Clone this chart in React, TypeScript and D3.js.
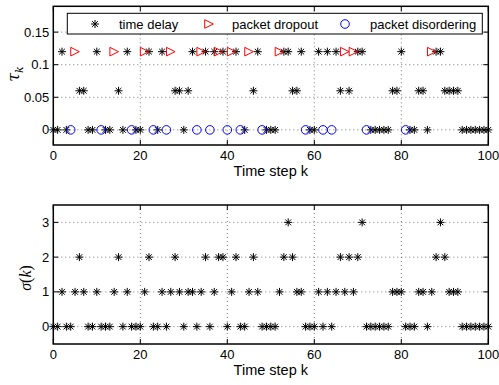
import React from 'react';
import * as d3 from 'd3';

// time steps grouped by delay level (tau_k)
const delayLevels = [0, 0.06, 0.12];
const delaySteps = [
  [0, 1, 3, 8, 9, 12, 13, 16, 19, 20, 24, 30, 44, 49, 50, 51, 59, 60, 73, 74, 75, 76, 77, 82, 83, 86, 94, 95, 96, 97, 98, 99, 100],
  [6, 7, 15, 28, 29, 31, 46, 55, 56, 66, 68, 78, 79, 84, 85, 90, 91, 92, 93],
  [2, 10, 17, 22, 25, 32, 35, 37, 39, 42, 47, 53, 54, 57, 61, 63, 65, 70, 71, 80, 88, 89],
];
const dropoutSteps = [5, 14, 21, 27, 34, 38, 41, 45, 52, 67, 69, 87];
const dropoutTau = 0.12;
const disorderSteps = [4, 11, 18, 23, 26, 33, 36, 40, 43, 48, 58, 62, 64, 72, 81];
const disorderTau = 0;

// sigma(k) levels
const sigmaLevels = [0, 1, 2, 3];
const sigmaSteps = [
  [0, 1, 3, 4, 8, 9, 11, 12, 13, 16, 18, 19, 20, 23, 24, 26, 30, 33, 36, 40, 43, 44, 48, 49, 50, 51, 58, 59, 60, 62, 64, 72, 73, 74, 75, 76, 77, 81, 82, 83, 86, 94, 95, 96, 97, 98, 99, 100],
  [2, 5, 7, 10, 14, 17, 21, 25, 27, 29, 31, 32, 34, 37, 41, 45, 47, 52, 56, 57, 61, 63, 65, 67, 69, 78, 79, 80, 84, 85, 87, 91, 92, 93],
  [6, 15, 22, 28, 35, 38, 39, 42, 46, 53, 55, 66, 68, 70, 88, 90],
  [54, 71, 89],
];

const xTicks = [0, 20, 40, 60, 80, 100];
const tauTicks = [0, 0.05, 0.1, 0.15];
const sigmaTicks = [0, 1, 2, 3];

const legendLabels = ['time delay', 'packet dropout', 'packet disordering'];

const FONT = 'Liberation Sans, Arial, Helvetica, sans-serif';
const W = 499;
const H = 385;
const left = 53.3;
const right = 488.3;

const star = (s: number) => {
  const d = s * 0.72;
  return `M${-s},0H${s}M0,${-s}V${s}M${-d},${-d}L${d},${d}M${-d},${d}L${d},${-d}`;
};
const tri = (s: number) => `M${-s},${-s}L${s},0L${-s},${s}Z`;

const Star = ({ x, y }: { x: number; y: number }) => (
  <path d={star(4)} transform={`translate(${x},${y})`} stroke="#000" strokeWidth={1} fill="none" />
);
const Tri = ({ x, y }: { x: number; y: number }) => (
  <path d={tri(4.3)} transform={`translate(${x},${y})`} stroke="#ff0000" strokeWidth={1} fill="none" />
);
const Circ = ({ x, y }: { x: number; y: number }) => (
  <circle cx={x} cy={y} r={4.3} stroke="#0000ff" strokeWidth={1} fill="none" />
);

interface PanelProps {
  top: number;
  bottom: number;
  yDomain: [number, number];
  yTicks: number[];
  yFmt: (v: number) => string;
  children: (x: d3.ScaleLinear<number, number>, y: d3.ScaleLinear<number, number>) => React.ReactNode;
}

const Panel: React.FC<PanelProps> = ({ top, bottom, yDomain, yTicks, yFmt, children }) => {
  const x = d3.scaleLinear().domain([0, 100]).range([left, right]);
  const y = d3.scaleLinear().domain(yDomain).range([bottom, top]);
  const tl = 5;
  return (
    <g>
      {/* grid */}
      {xTicks.filter(t => t > 0 && t < 100).map(t => (
        <line key={'gx' + t} x1={x(t)} x2={x(t)} y1={top} y2={bottom} stroke="#444" strokeWidth={0.7} strokeDasharray="1,3" />
      ))}
      {yTicks.map(t => (
        <line key={'gy' + t} x1={left} x2={right} y1={y(t)} y2={y(t)} stroke="#444" strokeWidth={0.7} strokeDasharray="1,3" />
      ))}
      {children(x, y)}
      {/* ticks */}
      {xTicks.map(t => (
        <g key={'tx' + t}>
          <line x1={x(t)} x2={x(t)} y1={bottom} y2={bottom - tl} stroke="#000" />
          <line x1={x(t)} x2={x(t)} y1={top} y2={top + tl} stroke="#000" />
          <text x={x(t)} y={bottom + 15} fontSize={13} fontFamily={FONT} textAnchor="middle">{t}</text>
        </g>
      ))}
      {yTicks.map(t => (
        <g key={'ty' + t}>
          <line x1={left} x2={left + tl} y1={y(t)} y2={y(t)} stroke="#000" />
          <line x1={right} x2={right - tl} y1={y(t)} y2={y(t)} stroke="#000" />
          <text x={left - 4} y={y(t) + 4.5} fontSize={13} fontFamily={FONT} textAnchor="end">{yFmt(t)}</text>
        </g>
      ))}
      <rect x={left} y={top} width={right - left} height={bottom - top} fill="none" stroke="#000" strokeWidth={1.5} />
      <text x={(left + right) / 2} y={bottom + 31} fontSize={14.5} fontFamily={FONT} textAnchor="middle">Time step k</text>
    </g>
  );
};

export default function App() {
  return (
    <svg width={W} height={H} style={{ position: 'absolute', left: 0, top: 0, background: '#fff' }}>
      <rect width={W} height={H} fill="#fff" />
      <Panel top={6.3} bottom={145} yDomain={[-0.0232, 0.1896]} yTicks={tauTicks} yFmt={v => String(v)}>
        {(x, y) => (
          <g>
            {delaySteps.map((ks, i) => ks.map(k => <Star key={`d${i}-${k}`} x={x(k)} y={y(delayLevels[i])} />))}
            {dropoutSteps.map(k => <Tri key={'p' + k} x={x(k)} y={y(dropoutTau)} />)}
            {disorderSteps.map(k => <Circ key={'o' + k} x={x(k)} y={y(disorderTau)} />)}
            {/* legend */}
            <rect x={67.3} y={13.3} width={415} height={20.7} fill="#fff" stroke="#000" strokeWidth={1} />
            <Star x={95} y={24} />
            <text x={119} y={28.5} fontSize={13} fontFamily={FONT}>{legendLabels[0]}</text>
            <Tri x={209} y={24} />
            <text x={232} y={28.5} fontSize={13} fontFamily={FONT}>{legendLabels[1]}</text>
            <Circ x={345} y={24} />
            <text x={370} y={28.5} fontSize={13} fontFamily={FONT}>{legendLabels[2]}</text>
          </g>
        )}
      </Panel>
      <Panel top={205} bottom={344} yDomain={[-0.5, 3.5]} yTicks={sigmaTicks} yFmt={v => String(v)}>
        {(x, y) => (
          <g>
            {sigmaSteps.map((ks, i) => ks.map(k => <Star key={`s${i}-${k}`} x={x(k)} y={y(sigmaLevels[i])} />))}
          </g>
        )}
      </Panel>
      <text transform="translate(19,74) rotate(-90)" fontSize={16} fontFamily="DejaVu Serif, serif" textAnchor="middle">
        <tspan fontStyle="italic">τ</tspan>
        <tspan fontSize={11} dy={4} fontStyle="italic">k</tspan>
      </text>
      <text transform="translate(31,278) rotate(-90)" fontSize={16} fontFamily="Liberation Serif, serif" textAnchor="middle">
        <tspan fontStyle="italic">σ</tspan>
        <tspan>(</tspan>
        <tspan fontStyle="italic">k</tspan>
        <tspan>)</tspan>
      </text>
    </svg>
  );
}
